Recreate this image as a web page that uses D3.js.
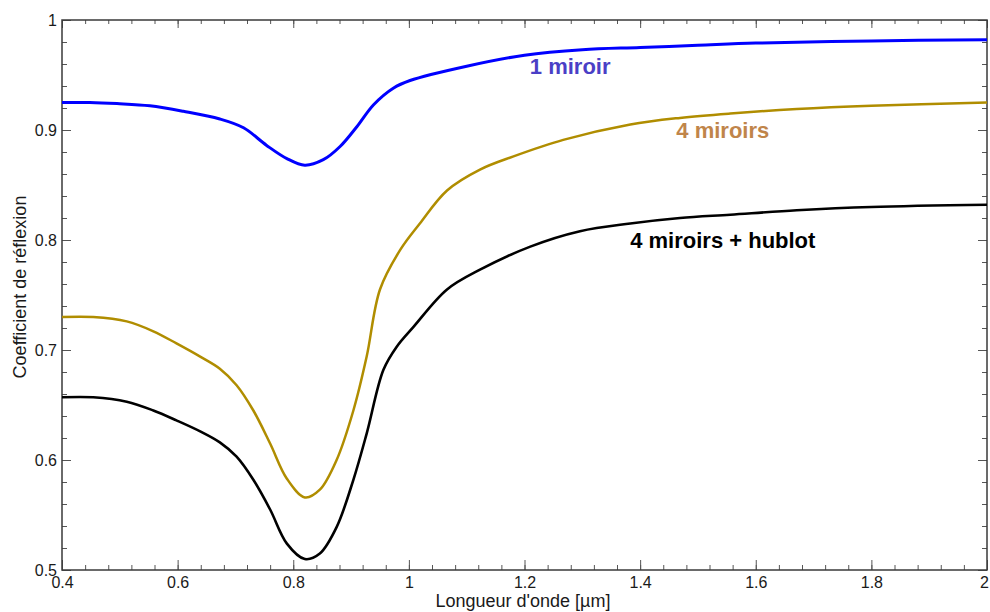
<!DOCTYPE html>
<html lang="fr">
<head>
    <meta charset="UTF-8">
    <title>Coefficient de réflexion</title>
    <script src="https://cdn.jsdelivr.net/npm/d3@7"></script>
    <style>
        body { margin: 0; background: white; }
        text { font-family: Arial, "Liberation Sans", sans-serif; }
        .tick text { font-size: 16px; fill: #1a1a1a; }
        .tick line { stroke: #555; }
    </style>
</head>
<body>
<script>
    const width = 990;
    const height = 612;

    // wavelength (µm) sampled along each curve
    const x1 = [0.40, 0.448, 0.495, 0.552, 0.610, 0.673, 0.714, 0.754, 0.789, 0.820, 0.852, 0.881, 0.910, 0.939, 0.973, 1.002, 1.10, 1.20, 1.30, 1.40, 1.50, 1.60, 1.80, 2.00];
    const r1 = [0.925, 0.925, 0.924, 0.922, 0.917, 0.910, 0.902, 0.886, 0.874, 0.868, 0.873, 0.885, 0.903, 0.923, 0.938, 0.945, 0.958, 0.968, 0.973, 0.975, 0.977, 0.979, 0.981, 0.982];

    const x4 = [0.40, 0.454, 0.512, 0.558, 0.598, 0.639, 0.673, 0.702, 0.731, 0.760, 0.789, 0.820, 0.846, 0.875, 0.904, 0.927, 0.950, 0.985, 1.019, 1.066, 1.123, 1.181, 1.267, 1.383, 1.469, 1.556, 1.671, 1.80, 2.00];
    const r4 = [0.730, 0.730, 0.726, 0.717, 0.706, 0.694, 0.683, 0.668, 0.645, 0.615, 0.583, 0.566, 0.573, 0.600, 0.645, 0.694, 0.755, 0.791, 0.815, 0.845, 0.864, 0.876, 0.891, 0.905, 0.911, 0.915, 0.919, 0.922, 0.925];

    const xh = [0.40, 0.454, 0.512, 0.558, 0.598, 0.639, 0.673, 0.702, 0.731, 0.760, 0.789, 0.820, 0.846, 0.875, 0.904, 0.927, 0.956, 0.979, 1.008, 1.066, 1.123, 1.21, 1.296, 1.383, 1.469, 1.556, 1.671, 1.80, 2.00];
    const rh = [0.657, 0.657, 0.653, 0.645, 0.636, 0.626, 0.616, 0.603, 0.582, 0.555, 0.524, 0.510, 0.515, 0.539, 0.582, 0.624, 0.682, 0.703, 0.721, 0.755, 0.773, 0.794, 0.808, 0.815, 0.820, 0.823, 0.827, 0.830, 0.832];

    const seriesNames = ["1 miroir", "4 miroirs", "4 miroirs + hublot"];
    const xMajor = [0.4, 0.6, 0.8, 1, 1.2, 1.4, 1.6, 1.8, 2];
    const yMajor = [0.5, 0.6, 0.7, 0.8, 0.9, 1];

    const x = d3.scaleLinear().domain([0.4, 2]).range([62, 987]);
    const y = d3.scaleLinear().domain([0.5, 1]).range([570, 20]);

    const xMinor = d3.range(0.4, 2.0001, 0.04).map(v => +v.toFixed(2));
    const yMinor = d3.range(0.5, 1.0001, 0.02).map(v => +v.toFixed(2));

    const svg = d3.select("body").append("svg")
        .attr("width", width).attr("height", height);

    const fmt = d => d === 1 || d === 2 ? String(d) : d3.format(".1f")(d);

    // ticks on all four sides, pointing inward
    function ticks(axisFn, scale, values, size, pad, labels, transform) {
        const g = svg.append("g").attr("transform", transform)
            .call(axisFn(scale).tickValues(values).tickSize(-size).tickPadding(pad)
                .tickFormat(labels ? fmt : ""));
        g.select(".domain").remove();
        return g;
    }
    ticks(d3.axisBottom, x, xMinor, 5, 0, false, "translate(0,570)");
    const bottom = ticks(d3.axisBottom, x, xMajor, 10, 6.5, true, "translate(0,570)");
    ticks(d3.axisTop, x, xMinor, 4, 0, false, "translate(0,20)");
    ticks(d3.axisTop, x, xMajor, 8, 0, false, "translate(0,20)");
    ticks(d3.axisLeft, y, yMinor, 5, 0, false, "translate(62,0)");
    ticks(d3.axisLeft, y, yMajor, 9, 5, true, "translate(62,0)");
    ticks(d3.axisRight, y, yMinor, 5, 0, false, "translate(987,0)");
    ticks(d3.axisRight, y, yMajor, 9, 0, false, "translate(987,0)");

    // last x label sits right on the frame edge
    bottom.selectAll(".tick text").filter(d => d === 2).attr("dx", -3);

    svg.append("rect")
        .attr("x", x(0.4)).attr("y", y(1))
        .attr("width", x(2) - x(0.4)).attr("height", y(0.5) - y(1))
        .attr("fill", "none").attr("stroke", "#3a3a3a").attr("stroke-width", 1.5);

    const line = d3.line()
        .x(d => x(d[0])).y(d => y(d[1]))
        .curve(d3.curveCatmullRom.alpha(0.5));

    const series = [
        {name: seriesNames[0], xs: x1, ys: r1, stroke: "#0000ff", width: 3,   label: "#4a3fc6", lx: 1.279, ly: 0.951},
        {name: seriesNames[1], xs: x4, ys: r4, stroke: "#b08d00", width: 2.5, label: "#c0854a", lx: 1.543, ly: 0.893},
        {name: seriesNames[2], xs: xh, ys: rh, stroke: "#000000", width: 2.6, label: "#000000", lx: 1.543, ly: 0.793}
    ];

    series.forEach(s => {
        svg.append("path")
            .datum(s.xs.map((v, i) => [v, s.ys[i]]))
            .attr("d", line)
            .attr("fill", "none")
            .attr("stroke", s.stroke)
            .attr("stroke-width", s.width)
            .attr("stroke-linejoin", "round");

        svg.append("text")
            .attr("x", x(s.lx)).attr("y", y(s.ly))
            .attr("text-anchor", "middle")
            .style("font-size", "22px")
            .style("font-weight", "bold")
            .style("fill", s.label)
            .text(s.name);
    });

    svg.append("text")
        .attr("x", 523).attr("y", 607)
        .attr("text-anchor", "middle")
        .style("font-size", "18px").style("fill", "#1a1a1a")
        .text("Longueur d'onde [µm]");

    svg.append("text")
        .attr("transform", "translate(26,287) rotate(-90)")
        .attr("text-anchor", "middle")
        .style("font-size", "18px").style("fill", "#1a1a1a")
        .text("Coefficient de réflexion");
</script>
</body>
</html>
